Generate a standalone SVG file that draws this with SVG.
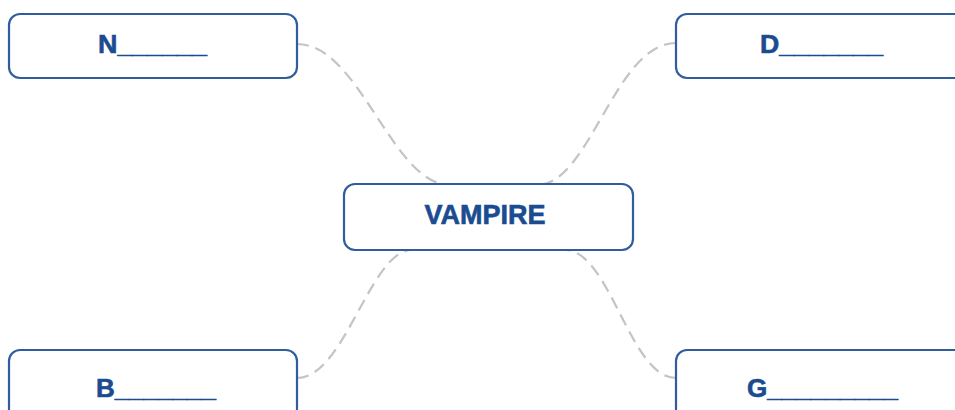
<svg xmlns="http://www.w3.org/2000/svg" width="955" height="410" viewBox="0 0 955 410">
<style>
.box{fill:#fff;stroke:#2f5d9e;stroke-width:2.2}
.lbl{font-family:"Liberation Sans",Arial,sans-serif;font-weight:bold;fill:#1b4b90;stroke:#1b4b90;stroke-width:0.6}
.con{fill:none;stroke:#c4c4c4;stroke-width:2.2;stroke-dasharray:12 7}
</style>
<rect width="955" height="410" fill="#fff"/>
<g id="connectors">
<path class="con" d="M297,44 C360,44 392,185 450,185"/>
<path class="con" d="M676,43 C615,43 590,185 537,185"/>
<path class="con" d="M297,378 C345,378 370,250 412,250"/>
<path class="con" d="M676,378 C630,378 610,250 565,250"/>
</g>
<g id="n-vampire">
<rect class="box" x="344" y="184" width="289" height="66" rx="11"/>
<text class="lbl" x="485" y="224" font-size="27" text-anchor="middle">VAMPIRE</text>
</g>
<g id="n-N">
<rect class="box" x="9" y="14" width="288" height="64" rx="11"/>
<text class="lbl" x="98" y="53" font-size="26" textLength="109" lengthAdjust="spacingAndGlyphs">N______</text>
</g>
<g id="n-D">
<rect class="box" x="676" y="14" width="290" height="64" rx="11"/>
<text class="lbl" x="760" y="53" font-size="26" textLength="123" lengthAdjust="spacingAndGlyphs">D_______</text>
</g>
<g id="n-B">
<rect class="box" x="9" y="350" width="288" height="70" rx="11"/>
<text class="lbl" x="96" y="397" font-size="26" textLength="120" lengthAdjust="spacingAndGlyphs">B_______</text>
</g>
<g id="n-G">
<rect class="box" x="676" y="350" width="290" height="70" rx="11"/>
<text class="lbl" x="747" y="397" font-size="26" textLength="151" lengthAdjust="spacingAndGlyphs">G_________</text>
</g>
</svg>
